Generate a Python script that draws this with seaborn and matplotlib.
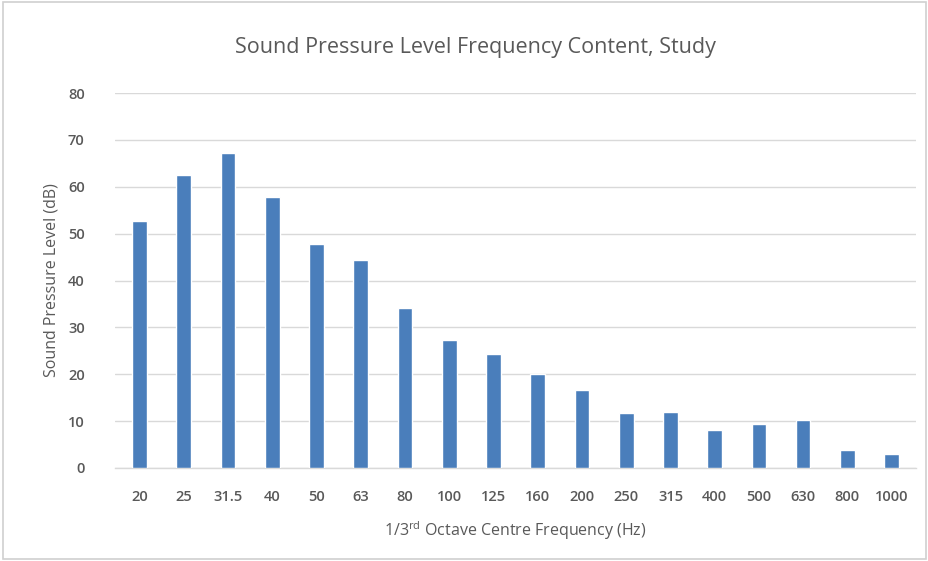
import matplotlib
matplotlib.use("Agg")
import matplotlib.pyplot as plt
import seaborn as sns
import pandas as pd

frequencies = ["20", "25", "31.5", "40", "50", "63", "80", "100", "125", "160",
               "200", "250", "315", "400", "500", "630", "800", "1000"]
spl_db = [52.7, 62.6, 67.3, 57.9, 47.8, 44.3, 34.2, 27.2, 24.4, 20.1,
          16.7, 11.7, 12.0, 8.0, 9.4, 10.2, 3.9, 3.0]
y_ticks = [0, 10, 20, 30, 40, 50, 60, 70, 80]

df = pd.DataFrame({"freq": frequencies, "spl": spl_db})

sns.set_theme(style="white")
plt.rcParams["font.family"] = ["Open Sans", "DejaVu Sans"]
plt.rcParams["mathtext.fontset"] = "custom"
plt.rcParams["mathtext.rm"] = "Open Sans"

grey = "#595959"
fig = plt.figure(figsize=(9.29, 5.61), dpi=100)
ax = fig.add_axes([0.124, 0.166, 0.862, 0.668])

sns.barplot(data=df, x="freq", y="spl", color="#4a7ebb", saturation=1,
            width=0.33, ax=ax, zorder=3)

ax.set_ylim(0, 80)
ax.set_yticks(y_ticks)
ax.set_yticklabels([str(v) for v in y_ticks])
ax.yaxis.grid(True, color="#d9d9d9", linewidth=1, zorder=0)
ax.set_axisbelow(True)
for s in ["top", "right", "left"]:
    ax.spines[s].set_visible(False)
ax.spines["bottom"].set_color("#d9d9d9")
ax.spines["bottom"].set_linewidth(1)
ax.tick_params(axis="both", length=0, colors=grey, labelsize=10.5)
ax.tick_params(axis="x", pad=16)
ax.tick_params(axis="y", pad=22)
for lab in ax.get_xticklabels() + ax.get_yticklabels():
    lab.set_fontweight("semibold")
ax.set_xlim(-0.55, 17.55)

ax.set_ylabel("Sound Pressure Level (dB)", color=grey, fontsize=11.5, labelpad=6)
ax.set_xlabel(r"1/3$^{\rm rd}$ Octave Centre Frequency (Hz)", color=grey,
              fontsize=11.5, labelpad=11)
fig.text(0.512, 0.915, "Sound Pressure Level Frequency Content, Study",
         ha="center", va="center", color=grey, fontsize=15.5)

fig.patches.append(plt.Rectangle((0.003, 0.003), 0.994, 0.994, transform=fig.transFigure,
                                 fill=False, edgecolor="#d0d0d0", linewidth=1.2))

fig.savefig("out.png", dpi=100)
